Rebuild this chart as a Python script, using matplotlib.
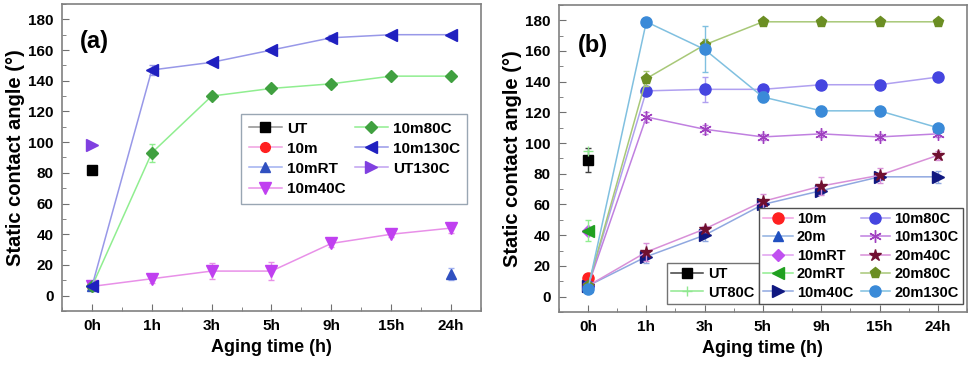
import numpy as np
import matplotlib.pyplot as plt
from matplotlib.ticker import MultipleLocator

plt.rcParams['font.family'] = ['Liberation Sans', 'DejaVu Sans']
plt.rcParams['font.weight'] = 'bold'

hours = ['0h', '1h', '3h', '5h', '9h', '15h', '24h']
nan = np.nan

# panel (a)
a_ut = [82, nan, nan, nan, nan, nan, nan]
a_10m = [6, nan, nan, nan, nan, nan, nan]
a_10mrt = [6, nan, nan, nan, nan, nan, 14]
a_10mrt_err = [1, 0, 0, 0, 0, 0, 4]
a_10m40c = [6, 11, 16, 16, 34, 40, 44]
a_10m40c_err = [1, 3, 5, 6, 2, 2, 3]
a_10m80c = [6, 93, 130, 135, 138, 143, 143]
a_10m80c_err = [1, 6, 2, 2, 2, 1, 1]
a_10m130c = [6, 147, 152, 160, 168, 170, 170]
a_10m130c_err = [1, 3, 1, 1, 2, 1, 1]
a_ut130c = [98, nan, nan, nan, nan, nan, nan]

# panel (b)
b_ut = [89, nan, nan, nan, nan, nan, nan]
b_ut_err = [8, 0, 0, 0, 0, 0, 0]
b_ut80c = [95, nan, nan, nan, nan, nan, nan]
b_10m = [12, nan, nan, nan, nan, nan, nan]
b_20m = [6, nan, nan, nan, nan, nan, nan]
b_10mrt = [43, nan, nan, nan, nan, nan, nan]
b_20mrt = [43, nan, nan, nan, nan, nan, nan]
b_20mrt_err = [7, 0, 0, 0, 0, 0, 0]
b_10m40c = [7, 26, 40, 60, 69, 78, 78]
b_10m40c_err = [1, 4, 4, 3, 2, 2, 4]
b_10m80c = [7, 134, 135, 135, 138, 138, 143]
b_10m80c_err = [1, 2, 8, 2, 2, 2, 1]
b_10m130c = [7, 117, 109, 104, 106, 104, 106]
b_10m130c_err = [1, 3, 3, 2, 2, 2, 2]
b_20m40c = [7, 29, 44, 62, 72, 79, 92]
b_20m40c_err = [1, 6, 2, 5, 6, 5, 3]
b_20m80c = [7, 142, 164, 179, 179, 179, 179]
b_20m80c_err = [1, 5, 4, 0, 0, 0, 0]
b_20m130c = [5, 179, 161, 130, 121, 121, 110]
b_20m130c_err = [1, 1, 15, 3, 3, 2, 2]

x = np.arange(len(hours))

fig = plt.figure(figsize=(9.72, 3.7), dpi=100)
ax1 = fig.add_axes([0.0638, 0.1595, 0.431, 0.8297])
ax2 = fig.add_axes([0.575, 0.157, 0.4198, 0.8297])


def series(ax, y, err, mk, mc, lc, label, ms=7):
    if err is not None:
        ax.errorbar(x, y, yerr=err, fmt='none', elinewidth=1, ecolor=lc, capsize=2.5)
    ax.plot(x, y, marker=mk, color=lc, mfc=mc, mec=mc, ms=ms, lw=1.1, label=label)


series(ax1, a_ut, None, 's', 'black', '#909090', 'UT')
series(ax1, a_10m, None, 'o', '#ff2020', '#f0a0e0', '10m')
series(ax1, a_10mrt, a_10mrt_err, '^', '#3050c0', '#a0b0f0', '10mRT')
series(ax1, a_10m40c, a_10m40c_err, 'v', '#c040f0', '#e890e8', '10m40C', 8)
series(ax1, a_10m80c, a_10m80c_err, 'D', '#40a040', '#90ee90', '10m80C', 6)
series(ax1, a_10m130c, a_10m130c_err, '<', '#2020c0', '#9898e8', '10m130C', 8)
series(ax1, a_ut130c, None, '>', '#8040e0', '#c0a0f0', 'UT130C', 8)

series(ax2, b_ut, b_ut_err, 's', 'black', '#404040', 'UT')
series(ax2, b_ut80c, None, '+', '#90e890', '#90e890', 'UT80C')
series(ax2, b_10m, None, 'o', '#ff2020', '#f0a0e0', '10m', 8)
series(ax2, b_20m, None, '^', '#2050c0', '#90b0e0', '20m')
series(ax2, b_10mrt, None, 'D', '#c050f0', '#e0a0f0', '10mRT', 6)
series(ax2, b_20mrt, b_20mrt_err, '<', '#20a020', '#90ee90', '20mRT', 8)
series(ax2, b_10m40c, b_10m40c_err, '>', '#101880', '#90a8e0', '10m40C', 8)
series(ax2, b_10m80c, b_10m80c_err, 'o', '#4545e0', '#b0a0f0', '10m80C', 8)
series(ax2, b_10m130c, b_10m130c_err, (6, 2, 0), '#a040c0', '#c080e0', '10m130C', 9)
series(ax2, b_20m40c, b_20m40c_err, '*', '#701030', '#d890d8', '20m40C', 9)
series(ax2, b_20m80c, b_20m80c_err, 'p', '#6b8e23', '#a8c878', '20m80C', 8)
series(ax2, b_20m130c, b_20m130c_err, 'o', '#3a8ad8', '#80c0e0', '20m130C', 8)

for ax in (ax1, ax2):
    ax.set_xlim(-0.5, 6.5)
    ax.set_ylim(-10, 190)
    ax.set_xticks(x)
    ax.set_xticklabels(hours)
    ax.set_yticks(np.arange(0, 181, 20))
    ax.xaxis.set_minor_locator(MultipleLocator(0.5))
    ax.yaxis.set_minor_locator(MultipleLocator(10))
    ax.tick_params(which='both', direction='in', top=False, right=False,
                   labelsize=11, color='#707070')
    ax.tick_params(which='major', length=5, pad=6)
    ax.tick_params(which='minor', length=3)
    for sp in ax.spines.values():
        sp.set_color('#808080')
        sp.set_linewidth(1.2)
    ax.set_xlabel('Aging time (h)', fontsize=13, fontweight='bold', labelpad=4)
    ax.set_ylabel('Static contact angle (°)', fontsize=14.5, fontweight='bold', labelpad=2)

ax1.text(0.043, 0.857, '(a)', transform=ax1.transAxes, fontsize=17, fontweight='bold')
ax2.text(0.047, 0.847, '(b)', transform=ax2.transAxes, fontsize=17, fontweight='bold')

leg1 = ax1.legend(ncol=2, loc='upper left', bbox_to_anchor=(0.427, 0.642),
                  fontsize=11, frameon=True, fancybox=False, edgecolor='#8090a0',
                  handlelength=2.2, handletextpad=0.3, columnspacing=0.6,
                  labelspacing=0.4, borderpad=0.5, borderaxespad=0)

h, l = ax2.get_legend_handles_labels()
leg_ut = ax2.legend(h[:2], l[:2], loc='lower left', bbox_to_anchor=(0.265, 0.026),
                    fontsize=10.5, frameon=True, fancybox=False, edgecolor='#505050',
                    handlelength=2.2, handletextpad=0.3, labelspacing=0.3,
                    borderpad=0.3, borderaxespad=0)
leg_ut.set_zorder(5)
ax2.add_artist(leg_ut)
leg2 = ax2.legend(h[2:], l[2:], ncol=2, loc='lower right', bbox_to_anchor=(0.99, 0.026),
                  fontsize=10.5, frameon=True, fancybox=False, edgecolor='#505050',
                  handlelength=2.0, handletextpad=0.3, columnspacing=0.5,
                  labelspacing=0.3, borderpad=0.3, borderaxespad=0)
leg2.set_zorder(6)
leg2.get_frame().set_alpha(1)

fig.savefig('out.png', dpi=100)
